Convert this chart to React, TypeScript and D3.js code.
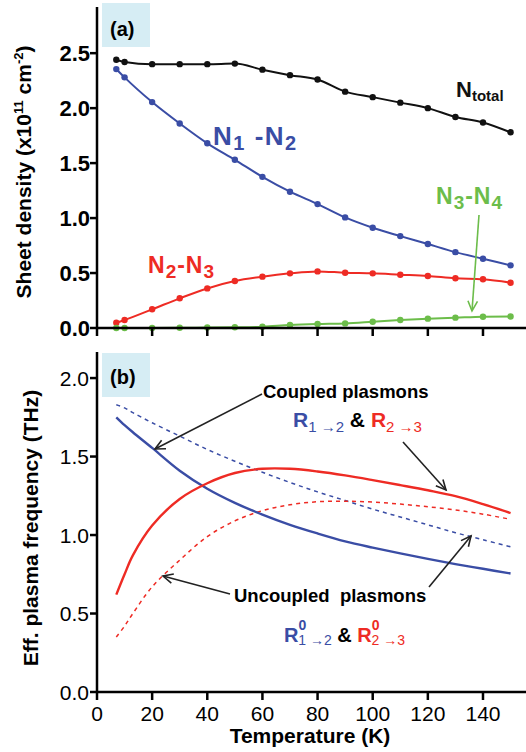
import React from "react";
import * as d3 from "d3";

// temperatures (K) of the measured points, panel (a)
const temps = [7, 10, 20, 30, 40, 50, 60, 70, 80, 90, 100, 110, 120, 130, 140, 150];
const nTotal = [2.44, 2.42, 2.4, 2.4, 2.4, 2.405, 2.35, 2.3, 2.26, 2.15, 2.1, 2.05, 2.0, 1.92, 1.87, 1.78];
const n1n2 = [2.355, 2.28, 2.055, 1.86, 1.68, 1.53, 1.375, 1.24, 1.127, 1.006, 0.912, 0.836, 0.764, 0.69, 0.63, 0.57];
const n2n3 = [0.048, 0.073, 0.17, 0.27, 0.36, 0.427, 0.467, 0.497, 0.515, 0.503, 0.497, 0.485, 0.473, 0.452, 0.443, 0.412];
const n3n4 = [0.0, 0.0, 0.001, 0.002, 0.004, 0.007, 0.012, 0.027, 0.036, 0.042, 0.057, 0.073, 0.085, 0.094, 0.103, 0.105];

// panel (b) model curves
const freqTemps = [7, 10, 13, 20, 30, 40, 50, 60, 70, 80, 90, 100, 110, 120, 130, 140, 150];
const r12 = [1.75, 1.7, 1.655, 1.555, 1.41, 1.295, 1.205, 1.13, 1.065, 1.01, 0.96, 0.92, 0.883, 0.848, 0.815, 0.785, 0.755];
const r12u = [1.83, 1.81, 1.78, 1.715, 1.63, 1.545, 1.47, 1.4, 1.335, 1.275, 1.22, 1.165, 1.115, 1.065, 1.015, 0.97, 0.925];
const r23 = [0.62, 0.75, 0.87, 1.06, 1.23, 1.33, 1.395, 1.422, 1.422, 1.405, 1.38, 1.35, 1.318, 1.285, 1.248, 1.197, 1.14];
const r23u = [0.35, 0.42, 0.5, 0.67, 0.84, 0.99, 1.09, 1.155, 1.193, 1.212, 1.215, 1.21, 1.197, 1.18, 1.16, 1.133, 1.1];

const xTicks = [0, 20, 40, 60, 80, 100, 120, 140];
const topTicks = [0, 0.5, 1.0, 1.5, 2.0, 2.5];
const botTicks = [0, 0.5, 1.0, 1.5, 2.0];

const BLUE = "#3a4da5";
const RED = "#ee2b24";
const GREEN = "#6cbd4a";
const FONT = "'Liberation Sans', Arial, sans-serif";

const x = d3.scaleLinear().domain([0, 155.6]).range([97, 526]);
const yTop = d3.scaleLinear().domain([0, 2.92]).range([328, 7]);
const yBot = d3.scaleLinear().domain([0, 2.166]).range([692, 352]);

const topLine = d3
  .line<number>()
  .x((_, i) => x(temps[i]))
  .curve(d3.curveMonotoneX);

const botLine = (vals: number[]) =>
  d3
    .line<number>()
    .x((_, i) => x(freqTemps[i]))
    .y((d) => yBot(d))
    .curve(d3.curveCatmullRom.alpha(0.5))(vals) || "";

function Series({ vals, color }: { vals: number[]; color: string }) {
  const path = topLine.y((d) => yTop(d))(vals) || "";
  return (
    <g>
      <path d={path} fill="none" stroke={color} strokeWidth={2} />
      {vals.map((v, i) => (
        <circle key={i} cx={x(temps[i])} cy={yTop(v)} r={3.2} fill={color} />
      ))}
    </g>
  );
}

function Arrow({ x1, y1, x2, y2, color = "#222" }: any) {
  const a = Math.atan2(y2 - y1, x2 - x1);
  const L = 11,
    w = 0.45;
  const p1 = [x2 - L * Math.cos(a - w), y2 - L * Math.sin(a - w)];
  const p2 = [x2 - L * Math.cos(a + w), y2 - L * Math.sin(a + w)];
  return (
    <g stroke={color} strokeWidth={1.6} fill="none">
      <line x1={x1} y1={y1} x2={x2} y2={y2} />
      <path d={`M${p1[0]},${p1[1]}L${x2},${y2}L${p2[0]},${p2[1]}`} />
    </g>
  );
}

export default function App() {
  return (
    <svg
      width={526}
      height={752}
      style={{ position: "absolute", left: 0, top: 0, background: "#fff" }}
      fontFamily={FONT}
    >
      {/* panel label boxes */}
      <rect x={102} y={3} width={48} height={44} fill="#d6edf4" />
      <text x={110} y={36} fontSize={20} fontWeight="bold">(a)</text>
      <rect x={102} y={353} width={48} height={44} fill="#d6edf4" />
      <text x={110} y={384} fontSize={20} fontWeight="bold">(b)</text>

      {/* ---- panel (a) ---- */}
      <Series vals={nTotal} color="#111" />
      <Series vals={n1n2} color={BLUE} />
      <Series vals={n2n3} color={RED} />
      <Series vals={n3n4} color={GREEN} />

      <g stroke="#000" strokeWidth={2.5}>
        <line x1={x(0)} y1={7} x2={x(0)} y2={yTop(0) + 1} />
        <line x1={x(0) - 1} y1={yTop(0)} x2={526} y2={yTop(0)} />
        {topTicks.map((t) => (
          <line key={t} x1={x(0) - 7} x2={x(0)} y1={yTop(t)} y2={yTop(t)} />
        ))}
        {xTicks.map((t) => (
          <line key={t} x1={x(t)} x2={x(t)} y1={yTop(0)} y2={yTop(0) + 8} />
        ))}
      </g>
      {topTicks.map((t) => (
        <text key={t} x={90} y={yTop(t)} dy="0.36em" textAnchor="end" fontSize={22} fontWeight="bold">
          {t.toFixed(1)}
        </text>
      ))}
      <text
        transform="translate(31,172) rotate(-90)"
        textAnchor="middle"
        fontSize={21}
        fontWeight="bold"
      >
        Sheet density (x10<tspan dy={-8} fontSize={13}>11</tspan>
        <tspan dy={8}> cm</tspan>
        <tspan dy={-8} fontSize={13}>-2</tspan>
        <tspan dy={8}>)</tspan>
      </text>

      <text x={456} y={97} fontSize={22} fontWeight="bold" fill="#111">
        N<tspan dy={4} fontSize={15}>total</tspan>
      </text>
      <text x={213} y={145} fontSize={26} fontWeight="bold" fill={BLUE} letterSpacing={1.5}>
        N<tspan dy={5} fontSize={20}>1</tspan>
        <tspan dy={-5}> -N</tspan>
        <tspan dy={5} fontSize={20}>2</tspan>
      </text>
      <text x={148} y={273} fontSize={23} fontWeight="bold" fill={RED} letterSpacing={1}>
        N<tspan dy={5} fontSize={19}>2</tspan>
        <tspan dy={-5}>-N</tspan>
        <tspan dy={5} fontSize={19}>3</tspan>
      </text>
      <text x={436} y={204} fontSize={23} fontWeight="bold" fill={GREEN} letterSpacing={1}>
        N<tspan dy={5} fontSize={19}>3</tspan>
        <tspan dy={-5}>-N</tspan>
        <tspan dy={5} fontSize={19}>4</tspan>
      </text>
      <Arrow x1={479} y1={215} x2={472} y2={311} color={GREEN} />

      {/* ---- panel (b) ---- */}
      <path d={botLine(r12u)} fill="none" stroke={BLUE} strokeWidth={1.5} strokeDasharray="4,4" />
      <path d={botLine(r23u)} fill="none" stroke={RED} strokeWidth={1.5} strokeDasharray="4,4" />
      <path d={botLine(r12)} fill="none" stroke={BLUE} strokeWidth={2.4} />
      <path d={botLine(r23)} fill="none" stroke={RED} strokeWidth={2.4} />

      <g stroke="#000" strokeWidth={2.5}>
        <line x1={x(0)} y1={352} x2={x(0)} y2={yBot(0) + 1} />
        <line x1={x(0) - 1} y1={yBot(0)} x2={526} y2={yBot(0)} />
        {botTicks.map((t) => (
          <line key={t} x1={x(0) - 7} x2={x(0)} y1={yBot(t)} y2={yBot(t)} />
        ))}
        {xTicks.map((t) => (
          <line key={t} x1={x(t)} x2={x(t)} y1={yBot(0)} y2={yBot(0) + 8} />
        ))}
      </g>
      {botTicks.map((t) => (
        <text key={t} x={89} y={yBot(t)} dy="0.36em" textAnchor="end" fontSize={21}>
          {t.toFixed(1)}
        </text>
      ))}
      {xTicks.map((t) => (
        <text key={t} x={x(t)} y={721} textAnchor="middle" fontSize={21}>
          {t}
        </text>
      ))}
      <text x={310} y={743} textAnchor="middle" fontSize={21} fontWeight="bold">
        Temperature (K)
      </text>
      <text
        transform="translate(38,528) rotate(-90)"
        textAnchor="middle"
        fontSize={21}
        fontWeight="bold"
      >
        Eff. plasma frequency (THz)
      </text>

      {/* annotations */}
      <text x={263} y={398} fontSize={18.5} fontWeight="bold">Coupled plasmons</text>
      <text x={293} y={427} fontSize={21} fontWeight="bold">
        <tspan fill={BLUE}>R</tspan>
        <tspan fill={BLUE} dy={5} fontSize={15} fontWeight="normal">1 →2</tspan>
        <tspan dy={-5} fill="#000"> &amp; </tspan>
        <tspan fill={RED}>R</tspan>
        <tspan fill={RED} dy={5} fontSize={15} fontWeight="normal">2 →3</tspan>
      </text>
      <Arrow x1={262} y1={394} x2={155} y2={449} />
      <Arrow x1={403} y1={442} x2={446} y2={490} />

      <text x={234} y={602} fontSize={18.5} fontWeight="bold" style={{ whiteSpace: "pre" }}>
        Uncoupled{"\u00a0 "}plasmons
      </text>
      <text x={284} y={642} fontSize={20} fontWeight="bold">
        <tspan fill={BLUE}>R</tspan>
        <tspan fill={BLUE} dy={-12} fontSize={14}>0</tspan>
        <tspan fill={BLUE} dx={-8} dy={15} fontSize={14} fontWeight="normal">1 →2</tspan>
        <tspan dy={-3} fill="#000"> &amp; </tspan>
        <tspan fill={RED}>R</tspan>
        <tspan fill={RED} dy={-12} fontSize={14}>0</tspan>
        <tspan fill={RED} dx={-8} dy={15} fontSize={14} fontWeight="normal">2 →3</tspan>
      </text>
      <Arrow x1={230} y1={594} x2={163} y2={576} />
      <Arrow x1={429} y1={587} x2={471} y2={536} />
    </svg>
  );
}
